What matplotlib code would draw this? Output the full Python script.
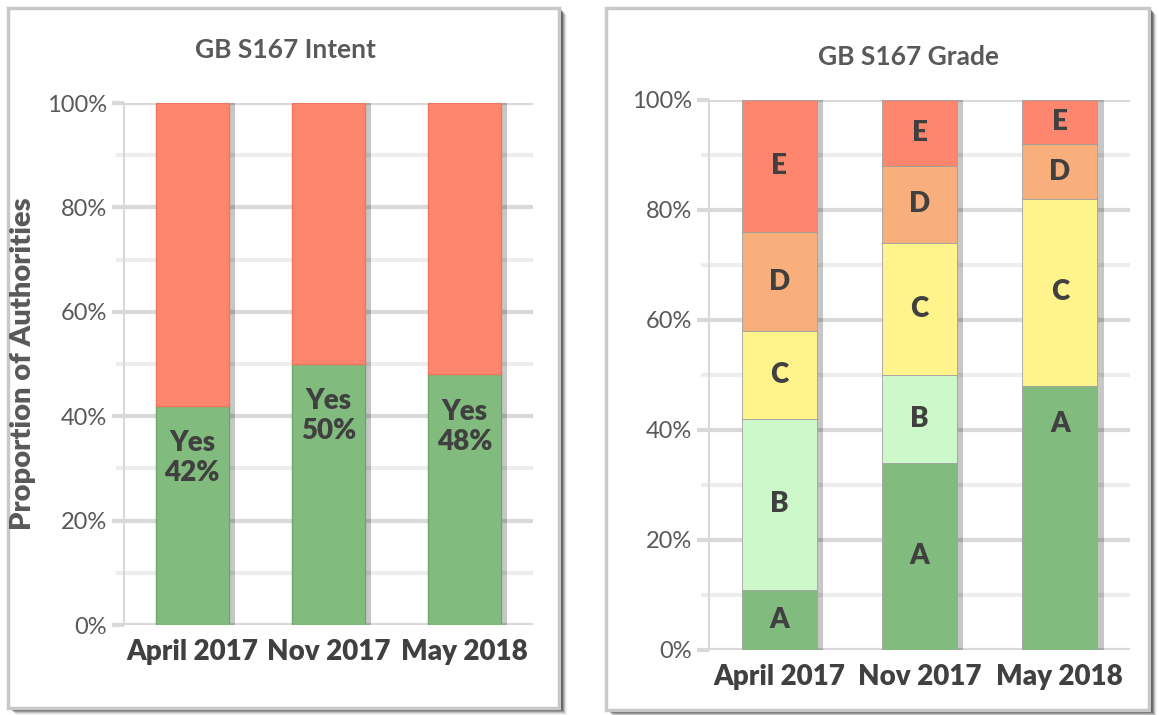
import numpy as np
import matplotlib.pyplot as plt
from matplotlib.patches import Rectangle

plt.rcParams['font.family'] = ['Lato', 'DejaVu Sans']

periodos = ['April 2017', 'Nov 2017', 'May 2018']

# Intent (porcentaje de "Yes")
intent_yes = [42, 50, 48]

# Grade (A..E) por periodo
grados = ['A', 'B', 'C', 'D', 'E']
grado_A = [11, 34, 48]
grado_B = [31, 16, 0]
grado_C = [16, 24, 34]
grado_D = [18, 14, 10]
grado_E = [24, 12, 8]

colorVerde = '#82BB7E'
colorVerdeClaro = '#CCF8CA'
colorAmarillo = '#FFF48C'
colorNaranja = '#F9AF7C'
colorRojo = '#FF866E'
coloresGrado = [colorVerde, colorVerdeClaro, colorAmarillo, colorNaranja, colorRojo]

textoOscuro = '#404040'
textoTicks = '#595959'

W, H = 1159, 715
fig = plt.figure(figsize=(W / 100, H / 100), dpi=100)


def px(x0, y0, x1, y1):
    # caja en pixeles (origen arriba-izquierda) -> coordenadas de figura
    return [x0 / W, 1 - y1 / H, (x1 - x0) / W, (y1 - y0) / H]


def panel(x0, y0, x1, y1):
    # sombra oscura a la derecha y abajo
    for i, a in enumerate([0.55, 0.4, 0.28, 0.18, 0.1, 0.05]):
        r = Rectangle(((x0 + 3 + i) / W, 1 - (y1 + 2 + i) / H),
                      (x1 - x0) / W, (y1 - y0) / H,
                      transform=fig.transFigure, facecolor='#303030',
                      edgecolor='none', alpha=a, zorder=-3)
        fig.patches.append(r)
    r = Rectangle((x0 / W, 1 - y1 / H), (x1 - x0) / W, (y1 - y0) / H,
                  transform=fig.transFigure, facecolor='white',
                  edgecolor='#C8C8C8', linewidth=2.5, zorder=-2)
    fig.patches.append(r)


def estilo_ejes(ax):
    ax.set_xlim(-0.5, 2.5)
    ax.set_ylim(0, 100)
    ax.set_yticks(np.arange(0, 101, 20))
    ax.set_yticks(np.arange(10, 100, 20), minor=True)
    ax.set_yticklabels([f'{v}%' for v in range(0, 101, 20)])
    ax.yaxis.grid(True, which='major', color='#D9D9D9', linewidth=3)
    ax.yaxis.grid(True, which='minor', color='#EDEDED', linewidth=3)
    ax.set_axisbelow(True)
    for s in ['top', 'right', 'bottom']:
        ax.spines[s].set_visible(False)
    ax.spines['left'].set_color('#D9D9D9')
    ax.spines['left'].set_linewidth(1.5)
    ax.tick_params(axis='y', which='major', length=9, width=3, color='#D9D9D9',
                   labelsize=17, labelcolor=textoTicks, pad=3)
    ax.tick_params(axis='y', which='minor', length=6, width=3, color='#EDEDED')
    ax.tick_params(axis='x', length=0, labelsize=20, labelcolor=textoOscuro, pad=10)
    ax.set_xticks(range(len(periodos)))
    ax.set_xticklabels(periodos, fontweight='heavy')
    ax.patch.set_alpha(0)


panel(8, 8, 559, 708)
panel(606, 8, 1149, 710)

x = np.arange(len(periodos))
ancho = 0.535

# ---- Intent ----
ax1 = fig.add_axes(px(124, 103, 533, 625))
estilo_ejes(ax1)
no_vals = [100 - v for v in intent_yes]
ax1.bar(x + 0.045, [100] * 3, ancho, color='#000000', alpha=0.22, zorder=2)
ax1.bar(x, intent_yes, ancho, color=colorVerde, edgecolor='#6FA86C', linewidth=1, zorder=3)
ax1.bar(x, no_vals, ancho, bottom=intent_yes, color=colorRojo, edgecolor='#EE7560',
        linewidth=1, zorder=3)
for i, v in enumerate(intent_yes):
    ax1.text(x[i], v - 10, f'Yes\n{v}%', ha='center', va='center', fontsize=20,
             fontweight='heavy', color=textoOscuro, linespacing=1.2, zorder=4)
ax1.set_ylabel('Proportion of Authorities', fontsize=21, fontweight='heavy',
               color=textoTicks)
ax1.yaxis.set_label_coords(-0.215, 0.5)
fig.text(285 / W, 1 - 50 / H, 'GB S167 Intent', ha='center', va='center',
         fontsize=19, fontweight='bold', color=textoTicks)

# ---- Grade ----
ax2 = fig.add_axes(px(709, 100, 1130, 650))
estilo_ejes(ax2)
series = [grado_A, grado_B, grado_C, grado_D, grado_E]
ax2.bar(x + 0.045, [100] * 3, ancho, color='#000000', alpha=0.22, zorder=2)
base = np.zeros(len(periodos))
for nombre, vals, col in zip(grados, series, coloresGrado):
    vals = np.array(vals, dtype=float)
    ax2.bar(x, vals, ancho, bottom=base, color=col, edgecolor='#A0A0A0',
            linewidth=0.6, zorder=3)
    for i in range(len(periodos)):
        if vals[i] <= 0:
            continue
        if vals[i] > 40:
            yt = base[i] + vals[i] - 7
        else:
            yt = base[i] + vals[i] / 2
        ax2.text(x[i], yt, nombre, ha='center', va='center', fontsize=20,
                 fontweight='heavy', color=textoOscuro, zorder=4)
    base += vals
fig.text(909 / W, 1 - 57 / H, 'GB S167 Grade', ha='center', va='center',
         fontsize=19, fontweight='bold', color=textoTicks)

plt.savefig('out.png', dpi=100)
